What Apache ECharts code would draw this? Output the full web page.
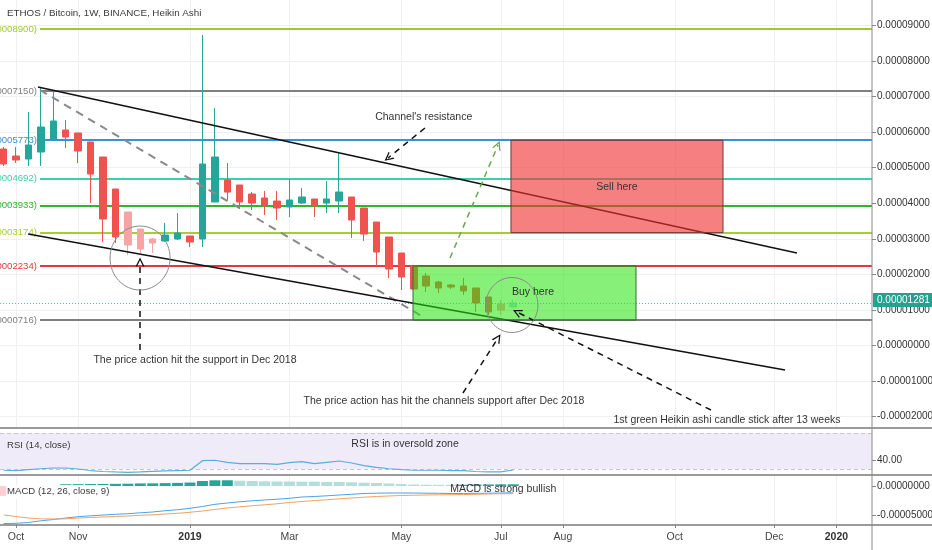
<!DOCTYPE html>
<html><head><meta charset="utf-8">
<script src="https://cdn.jsdelivr.net/npm/echarts@6/dist/echarts.min.js"></script>
<style>html,body{margin:0;padding:0;background:#fff}#c{width:932px;height:550px}</style>
</head><body><div id="c"></div>
<script>
// ---------- DATA (prices in units of 1e-8 BTC, x in weeks since 2018-10-01) ----------
const candleWeeks = [-1,0,1,2,3,4,5,6,7,8,9,10,11,12,13,14,15,16,17,18,19,20,21,22,23,24,25,26,27,28,29,30,31,32,33,34,35,36,37,38,39,40];
const candleOpen  = [5526,5329,5244,5441,5807,6060,5976,5723,5301,4401,3754,3276,2995,2939,2995,3079,2995,4035,4654,4513,4260,4148,4063,3895,4007,4120,4007,4063,4176,3867,3473,3051,2601,2236,1954,1786,1701,1673,1617,1364,1167,1083];
const candleClose = [5104,5217,5638,6144,6313,5863,5469,4822,3557,3051,2826,2714,2882,3107,3164,2910,5104,5301,4314,4035,4007,3951,3867,4091,4176,3951,4120,4317,3529,3135,2629,2151,1926,1589,1673,1617,1645,1533,1195,942,998,1195];
const candleLow   = [5048,5132,5048,5048,5807,5554,5132,4007,2910,2882,2545,2601,2601,2910,2967,2770,2770,4035,4091,3838,3810,3670,3529,3613,3979,3613,3726,3726,3023,2939,2236,1898,1561,1561,1504,1476,1589,1420,942,858,858,1054];
const candleHigh  = [5582,5582,6566,7269,7185,6341,5976,5723,5301,4401,3754,3276,3023,3445,3726,3079,8731,6679,5132,4513,4317,4345,4345,4682,4429,4120,4626,5413,4176,3867,3473,3051,2601,2264,2039,1814,1729,1898,1617,1364,1279,1279];
const paleCandleWeeks = [9,10,11,39,40];
const lastPrice = 1281;

const levelValues = [8900,7150,5773,4692,3933,3174,2234,716];

const rsiValues = [28.6,28.3,29.4,30.3,31.1,31.1,30.0,28.3,27.2,26.7,26.3,26.7,27.4,28.0,28.3,28.6,39.2,39.7,37.4,35.9,35.9,35.9,35.2,37.0,38.1,35.9,37.4,38.9,36.7,33.7,31.9,30.3,29.2,28.6,28.6,28.6,28.3,28.3,27.2,26.7,26.7,28.9];
const rsiBand = [30,70];

const macdLine   = [-6480,-6430,-6290,-6000,-5780,-5520,-5290,-5140,-5000,-4880,-4780,-4620,-4480,-4260,-4090,-3840,-3530,-3160,-2930,-2720,-2550,-2410,-2280,-2120,-1900,-1810,-1690,-1550,-1430,-1290,-1240,-1210,-1210,-1210,-1240,-1260,-1290,-1290,-1260,-1240,-1210,-1170];
const macdSignal = [-5000,-5260,-5520,-5660,-5690,-5660,-5520,-5430,-5340,-5260,-5170,-5050,-4970,-4830,-4710,-4530,-4310,-4050,-3790,-3590,-3410,-3240,-3070,-2840,-2670,-2500,-2380,-2210,-2070,-1930,-1810,-1720,-1640,-1590,-1550,-1520,-1500,-1470,-1430,-1380,-1340,-1310];
const macdHist   = [-1700,-1150,-700,-250,0,300,320,340,360,370,400,450,460,500,540,600,860,980,990,910,860,810,780,780,740,740,690,690,640,570,520,430,340,260,220,200,200,220,260,270,290,300];

const timeTickWeeks  = [0,5,14,22,31,39,44,53,61,66];
const timeTickLabels = ['Oct','Nov','2019','Mar','May','Jul','Aug','Oct','Dec','2020'];
const priceTicks = [-2000,-1000,0,1000,2000,3000,4000,5000,6000,7000,8000,9000];
const rsiTicks = [40];
const macdTicks = [-5000,0];

// drawings (week, price)
const channelTop    = [[1.77,7269],[62.83,2601]];
const channelBottom = [[0.97,3135],[61.87,-689]];
const grayDashed    = [[1.93,7185],[32.9,773]];
const arrowFrom = [[32.9,6116],[9.98,-127],[35.96,-1336],[55.91,-1814],[34.92,2460]];
const arrowTo   = [[29.93,5273],[9.98,2348],[38.78,211],[40.31,942],[38.78,5635]];
const buyZone  = [[31.94,2234],[49.88,716]];
const sellZone = [[39.82,5773],[56.88,3174]];
const circleCenters = [[9.98,2460],[39.9,1139]];
const noteTexts = ["Channel's resistance","Sell here","Buy here","The price action hit the support in Dec 2018","The price action has hit the channels support after Dec 2018","1st green Heikin ashi candle stick after 13 weeks"];
const notePos = [[32.8,6425],[48.35,4457],[41.59,1504],[14.4,-408],[34.43,-1561],[57.2,-2095]];
const rsiNote = ["RSI is in oversold zone"], rsiNotePos = [[31.3,57.8]];
const macdNote = ["MACD is strong bullish"], macdNotePos = [[39.2,-517]];

// ---------- STYLE / LAYOUT ----------
const FONT = "'Liberation Sans', Arial, sans-serif";
const XMIN = -1.287, XMAX = 68.866;
const levelColors = ['#9dcd2a','#7f7f7f','#3b8fd6','#3dcdb0','#2fb52f','#a5cf30','#e03a3a','#7f7f7f'];
const levelStartWeek = 1.93;
const fmt8 = v => (v/1e8).toFixed(8);
const chevron = 'path://M5,0 L10,10 L8.4,10 L5,3 L1.6,10 L0,10 Z';

const chart = echarts.init(document.getElementById('c'));

const candleData = candleWeeks.map((w,i)=>{
  const item = {value:[w,candleOpen[i],candleClose[i],candleLow[i],candleHigh[i]]};
  if (paleCandleWeeks.includes(w)) {
    const up = candleClose[i] > candleOpen[i];
    const col = up ? '#9fe3d6' : '#f6a5a4';
    item.itemStyle = {color:col,color0:col,borderColor:col,borderColor0:col};
  }
  return item;
});
const lastClose = candleClose[candleClose.length-1];

const histData = candleWeeks.map((w,i)=>{
  const v = macdHist[i], p = i>0 ? macdHist[i-1] : v;
  let col;
  if (v >= 0) col = v > p ? '#26a69a' : '#b2dfdb';
  else col = v < p ? '#ef5350' : '#ffcdd2';
  return {value:[w,v], itemStyle:{color:col}};
});

function gridLines(gi, yTicks) {
  return {
    type:'line', xAxisIndex:gi, yAxisIndex:gi, data:[], z:0, silent:true,
    markLine:{silent:true, z:0, symbol:'none', animation:false, label:{show:false},
      lineStyle:{color:'#eef0f4', width:1, type:'solid'},
      data:[...timeTickWeeks.map(w=>({xAxis:w})), ...yTicks.map(v=>({yAxis:v}))]}
  };
}
function textSeries(gi, texts, pos, size) {
  return {
    type:'custom', xAxisIndex:gi, yAxisIndex:gi, z:20, silent:true, clip:false,
    data: texts.map((t,i)=>[pos[i][0], pos[i][1], i]),
    renderItem:(params, api)=>{
      const p = api.coord([api.value(0), api.value(1)]);
      return {type:'text', x:p[0], y:p[1], style:{text:texts[api.value(2)], fill:'#333', font:size+'px '+FONT, align:'center', verticalAlign:'middle'}};
    }
  };
}
function segment(pts, style, z) {
  return {type:'line', xAxisIndex:0, yAxisIndex:0, data:pts, symbol:'none', silent:true, z:z||5, lineStyle:style};
}

const series = [
  gridLines(0, priceTicks),
  gridLines(2, []),
  // horizontal levels
  {type:'line', xAxisIndex:0, yAxisIndex:0, data:[], z:1, silent:true,
   markLine:{silent:true, z:1, symbol:'none', animation:false,
     data: levelValues.map((v,i)=>[
       {coord:[levelStartWeek,v], lineStyle:{color:levelColors[i], width:2, type:'solid'},
        label:{show:true, position:'start', distance:3, formatter:'('+fmt8(v)+')', color:levelColors[i], fontSize:9.6, fontFamily:FONT}},
       {coord:[XMAX,v]}
     ])}},
  // candles
  {type:'candlestick', xAxisIndex:0, yAxisIndex:0, z:2, barWidth:7,
   encode:{x:0, y:[1,2,3,4]},
   itemStyle:{color:'#26a69a', color0:'#ef5350', borderColor:'#26a69a', borderColor0:'#ef5350', borderWidth:1},
   data:candleData,
   markLine:{silent:true, z:3, symbol:'none', animation:false,
     data:[{yAxis:lastClose, lineStyle:{type:[1,2], color:'#5cbfb2', width:1}, label:{show:false}}]}},
  segment(channelTop, {color:'#111', width:1.6}, 5),
  segment(channelBottom, {color:'#111', width:1.6}, 5),
  segment(grayDashed, {color:'#8a8a8a', width:2, type:[8,6]}, 4),
  // zones (semi-transparent, drawn over candles and channel lines)
  {type:'line', xAxisIndex:0, yAxisIndex:0, data:[], z:7, silent:true,
   markArea:{silent:true, z:7, animation:false, data:[
     [{coord:buyZone[0], itemStyle:{color:'rgba(35,228,10,0.55)', borderColor:'#2e6e2e', borderWidth:1}},{coord:buyZone[1]}],
     [{coord:sellZone[0], itemStyle:{color:'rgba(240,50,50,0.62)', borderColor:'#6e3a3a', borderWidth:1}},{coord:sellZone[1]}]
   ]}},
  // arrows
  {type:'line', xAxisIndex:0, yAxisIndex:0, data:[], z:8, silent:true,
   markLine:{silent:true, z:8, animation:false, symbol:['none', chevron], symbolSize:[9,9], label:{show:false},
     data: arrowFrom.map((f,i)=>[
       {coord:f, lineStyle:{color: i===4 ? '#6aa84f' : '#111', width:1.5, type:[6,5]}},
       {coord:arrowTo[i]}
     ])}},
  // circles
  {type:'custom', xAxisIndex:0, yAxisIndex:0, z:9, silent:true, clip:false,
   data: circleCenters.map((c,i)=>[c[0],c[1],i]),
   renderItem:(params, api)=>{
     const p = api.coord([api.value(0), api.value(1)]);
     const r = api.value(2) === 0 ? [30,32] : [26,27.5];
     return {type:'ellipse', shape:{cx:p[0], cy:p[1], rx:r[0], ry:r[1]}, style:{fill:'none', stroke:'#8a8a8a', lineWidth:1}};
   }},
  textSeries(0, noteTexts, notePos, 10.5),
  // RSI band + line
  {type:'line', xAxisIndex:1, yAxisIndex:1, data:[], z:1, silent:true,
   markArea:{silent:true, z:1, animation:false, itemStyle:{color:'rgba(126,87,194,0.12)'}, data:[[{yAxis:rsiBand[0]},{yAxis:rsiBand[1]}]]},
   markLine:{silent:true, z:1, symbol:'none', animation:false, label:{show:false}, lineStyle:{color:'#c9c3d6', type:[4,3], width:1},
     data: rsiBand.map(v=>({yAxis:v}))}},
  {type:'line', xAxisIndex:1, yAxisIndex:1, z:3, symbol:'none', silent:true,
   data: candleWeeks.map((w,i)=>[w, rsiValues[i]]), lineStyle:{width:1.2, color:'#55b0d8'}},
  textSeries(1, rsiNote, rsiNotePos, 10.5),
  // MACD
  {type:'bar', xAxisIndex:2, yAxisIndex:2, z:2, barWidth:11, silent:true, data:histData},
  {type:'line', xAxisIndex:2, yAxisIndex:2, z:3, symbol:'none', silent:true, data:candleWeeks.map((w,i)=>[w, macdLine[i]]), lineStyle:{color:'#4aa3e8', width:1}},
  {type:'line', xAxisIndex:2, yAxisIndex:2, z:3, symbol:'none', silent:true, data:candleWeeks.map((w,i)=>[w, macdSignal[i]]), lineStyle:{color:'#f4a261', width:1}},
  textSeries(2, macdNote, macdNotePos, 10.5)
];

const hiddenX = gi => ({type:'value', gridIndex:gi, min:XMIN, max:XMAX, axisLine:{show:false, onZero:false}, axisTick:{show:false}, axisLabel:{show:false}, splitLine:{show:false}});
const rightY = (gi, min, max, ticks, fmt) => ({
  type:'value', gridIndex:gi, position:'right', min, max,
  axisLine:{show:false, onZero:false}, splitLine:{show:false},
  axisTick:{show:true, inside:false, length:4, customValues:ticks, lineStyle:{color:'#888'}},
  axisLabel:{customValues:ticks, formatter:fmt, color:'#333', fontSize:10, fontFamily:FONT, margin:5}
});

chart.setOption({
  animation:false,
  backgroundColor:'#fff',
  grid:[
    {left:0, top:0, width:872, height:428, outerBoundsMode:'none'},
    {left:0, top:428, width:872, height:47, outerBoundsMode:'none'},
    {left:0, top:475, width:872, height:50, outerBoundsMode:'none'}
  ],
  xAxis:[hiddenX(0), hiddenX(1),
    {type:'value', gridIndex:2, min:XMIN, max:XMAX, axisLine:{show:false, onZero:false}, splitLine:{show:false},
     axisTick:{show:true, length:3, customValues:timeTickWeeks, lineStyle:{color:'#888'}},
     axisLabel:{customValues:timeTickWeeks, margin:7, color:'#444', fontSize:10.5, fontFamily:FONT,
       formatter:v=>{const s = timeTickLabels[timeTickWeeks.indexOf(v)] || ''; return /^\d{4}$/.test(s) ? '{b|'+s+'}' : s;},
       rich:{b:{fontWeight:'bold', color:'#333', fontSize:10.5, fontFamily:FONT}}}}
  ],
  yAxis:[
    rightY(0, -2320, 9716, priceTicks, fmt8),
    rightY(1, 23.33, 75.56, rsiTicks, v=>v.toFixed(2)),
    rightY(2, -6724, 1897, macdTicks, fmt8)
  ],
  series,
  graphic:[
    {id:'sep1', type:'line', z:50, shape:{x1:0,y1:428,x2:932,y2:428}, style:{stroke:'#7a7a7a', lineWidth:1.5}},
    {id:'sep2', type:'line', z:50, shape:{x1:0,y1:475,x2:932,y2:475}, style:{stroke:'#7a7a7a', lineWidth:1.5}},
    {id:'sep3', type:'line', z:50, shape:{x1:0,y1:525,x2:932,y2:525}, style:{stroke:'#7a7a7a', lineWidth:1.5}},
    {id:'vax', type:'line', z:50, shape:{x1:872,y1:0,x2:872,y2:550}, style:{stroke:'#8a8a8a', lineWidth:1}},
    {id:'hdr', type:'text', z:50, left:7, top:8, style:{text:'ETHOS / Bitcoin, 1W, BINANCE, Heikin Ashi', fill:'#3a3a3a', font:'9.8px '+FONT}},
    {id:'rsiT', type:'text', z:50, left:7, top:440, style:{text:'RSI (14, close)', fill:'#3a3a3a', font:'9.6px '+FONT}},
    {id:'macdBg', type:'rect', z:49, shape:{x:6,y:485,width:103,height:14}, style:{fill:'rgba(255,255,255,0.9)'}},
    {id:'macdT', type:'text', z:50, left:7, top:486, style:{text:'MACD (12, 26, close, 9)', fill:'#3a3a3a', font:'9.6px '+FONT}}
  ]
});

// last-price badge on the right price scale
const badgeY = chart.convertToPixel({yAxisIndex:0}, lastPrice);
chart.setOption({graphic:[{id:'badge', type:'text', z:60, x:873, y:badgeY, style:{
  text:fmt8(lastPrice), fill:'#fff', font:'10px '+FONT, backgroundColor:'#22a28f', padding:[2,4,2,4], verticalAlign:'middle', align:'left'}}]});
</script></body></html>
